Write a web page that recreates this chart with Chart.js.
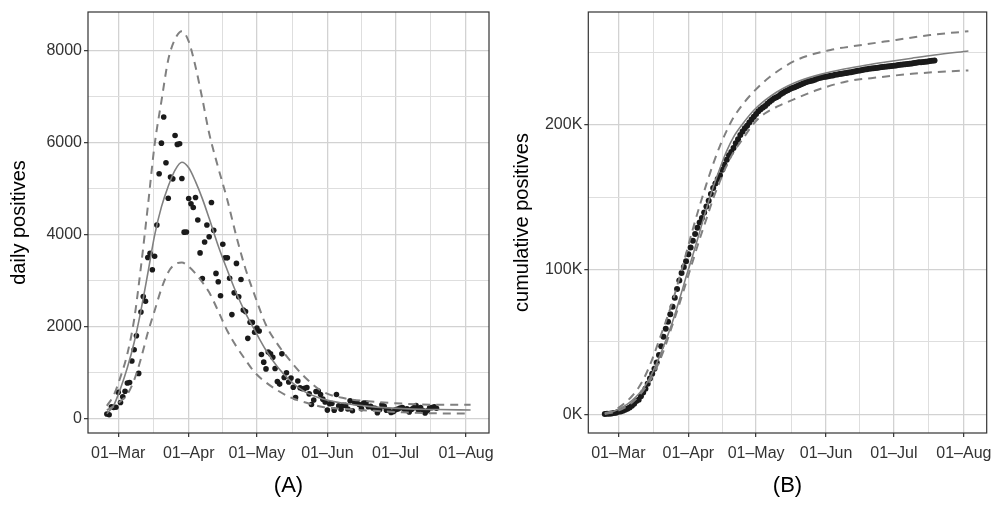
<!DOCTYPE html>
<html>
<head>
<meta charset="utf-8">
<script src="https://cdn.jsdelivr.net/npm/chart.js@4.4.0/dist/chart.umd.min.js"></script>
<style>
  html, body { margin: 0; padding: 0; background: #fff; }
  #wrap { position: relative; width: 995px; height: 506px; }
  canvas { position: absolute; top: 0; }
  #chartA { left: 0; }
  #chartB { left: 500px; }
</style>
</head>
<body>
<div id="wrap">
  <canvas id="chartA" width="497" height="506"></canvas>
  <canvas id="chartB" width="495" height="506"></canvas>
</div>
<script>
// --- x axis: days counted from 01-Mar ---
const monthDays = [0, 31, 61, 92, 122, 153];
const monthLabels = ['01–Mar', '01–Apr', '01–May', '01–Jun', '01–Jul', '01–Aug'];
const minorDays = [15.5, 46, 76.5, 107, 137.5];

// --- panel A: daily positives, first value is 25-Feb (day -5) ---
const firstDayDaily = -5;
const dailyPositives = [
  93, 78, 250, 238, 240,
  566, 342, 466, 587, 769, 778, 1247, 1492, 1797, 977, 2313, 2651, 2547, 3497, 3590, 3233,
  3526, 4207, 5322, 5986, 6557, 5560, 4789, 5249, 5210, 6153, 5959, 5974, 5217, 4050, 4053,
  4782, 4668, 4585, 4805, 4316, 3599, 3039, 3836, 4204, 3951, 4694, 4092, 3153, 2972, 2667,
  3786, 3493, 3491, 3047, 2256, 2729, 3370, 2646, 3021, 2357, 2324, 1739, 2091, 2086, 1872,
  1965, 1900, 1389, 1221, 1075, 1444, 1401, 1327, 1083, 802, 744, 1402, 888, 992, 789, 875,
  675, 451, 813, 665, 642, 652, 669, 531, 300, 397, 584, 593, 516, 416, 355,
  178, 318, 321, 177, 518, 270, 197, 280, 283, 202, 379, 163, 346, 338, 301, 210, 329, 333,
  251, 262, 224, 218, 122, 190, 296, 259, 175, 174, 126, 142,
  187, 201, 223, 235, 192, 208, 138, 193, 229, 276, 188, 234, 169, 114, 163, 230, 233, 249, 219
];

const fitDaysA = [-5, -2, 1, 4, 7, 10, 13, 16, 19, 22, 25, 28, 31, 34, 37, 40, 44, 48, 52, 56, 60, 65, 70, 76, 82, 90, 100, 110, 125, 140, 155];
const fitDaily = [100, 280, 650, 1100, 1650, 2350, 3150, 3980, 4600, 5050, 5400, 5570, 5450, 5150, 4780, 4350, 3750, 3220, 2720, 2290, 1920, 1480, 1120, 800, 580, 420, 320, 260, 210, 190, 180];
const fitDailyUpper = [270, 500, 900, 1400, 2150, 3300, 4600, 5950, 6900, 7800, 8250, 8420, 8200, 7650, 6950, 6200, 5450, 4750, 3950, 3250, 2680, 2030, 1620, 1230, 900, 580, 430, 370, 320, 295, 295];
const fitDailyLower = [180, 260, 370, 520, 830, 1300, 1860, 2340, 2820, 3180, 3350, 3390, 3300, 3150, 2960, 2740, 2330, 1900, 1560, 1270, 1000, 780, 610, 450, 350, 245, 200, 170, 130, 108, 105];

// --- panel B: cumulative positives, first value is 24-Feb (day -6) ---
const firstDayCum = -6;
const cumulativePositives = [
  229, 322, 400, 650, 888, 1128,
  1694, 2036, 2502, 3089, 3858, 4636, 5883, 7375, 9172, 10149, 12462, 15113, 17660, 21157, 24747,
  27980, 31506, 35713, 41035, 47021, 53578, 59138, 63927, 69176, 74386, 80539, 86498, 92472,
  97689, 101739, 105792,
  110574, 115242, 119827, 124632, 128948, 132547, 135586, 139422, 143626, 147577, 152271, 156363,
  159516, 162488, 165155, 168941, 172434, 175925, 178972, 181228, 183957, 187327, 189973, 192994,
  195351, 197675, 199414, 201505, 203591, 205463,
  207428, 209328, 210717, 211938, 213013, 214457, 215858, 217185, 218268, 219070, 219814, 221216,
  222104, 223096, 223885, 224760, 225435, 225886, 226699, 227364, 228006, 228658, 229327, 229858,
  230158, 230555, 231139, 231732, 232248, 232664, 233019,
  233197, 233515, 233836, 234013, 234531, 234801, 234998, 235278, 235561, 235763, 236142, 236305,
  236651, 236989, 237290, 237500, 237829, 238162, 238413, 238675, 238899, 239117, 239239, 239429,
  239725, 239984, 240159, 240333, 240459, 240601,
  240788, 240989, 241212, 241447, 241639, 241847, 241985, 242178, 242407, 242683, 242871, 243105,
  243274, 243388, 243551, 243781, 244014, 244263, 244482
];

const fitDaysB = [-6, -3, 0, 3, 6, 9, 12, 15, 18, 21, 24, 27, 30, 33, 36, 39, 42, 45, 48, 51, 55, 60, 65, 70, 75, 80, 90, 100, 110, 120, 130, 140, 155];
const fitCum = [500, 1500, 3500, 6000, 9500, 14000, 20000, 28500, 39000, 51000, 64000, 79000, 95000, 110000, 126000, 142000, 157000, 170000, 182000, 191500, 200500, 210000, 217000, 222500, 226800, 230200, 235000, 238500, 241300, 243700, 246000, 248200, 251000];
const fitCumUpperDays = [-6, -3, 0, 3, 6, 9, 12, 15, 18, 21, 24, 27, 30, 33, 36, 39, 42, 45, 48, 51, 55, 60, 67, 79, 94, 108, 123, 138, 155];
const fitCumUpper = [800, 2000, 4500, 8000, 12500, 18500, 27000, 38000, 51000, 64000, 78000, 94000, 111000, 128000, 144000, 159000, 173000, 185500, 196000, 205000, 214000, 223000, 233000, 244800, 251700, 255200, 258600, 262000, 264600];
const fitCumLowerDays = [-6, -3, 0, 3, 6, 9, 12, 15, 18, 21, 24, 27, 30, 33, 36, 39, 42, 45, 48, 51, 55, 60, 65, 71, 79, 88, 101, 116, 130, 145, 155];
const fitCumLower = [300, 1000, 2500, 4800, 8000, 12500, 18500, 26000, 36000, 48000, 62000, 76000, 91000, 106000, 121000, 135000, 149000, 161000, 172000, 181000, 190000, 201000, 208000, 213000, 218400, 224000, 229900, 232900, 235200, 236800, 237500];

const FONT = 'Liberation Sans, Arial, Helvetica, sans-serif';
const LINE_GREY = '#808080';
const X_MIN = -13.3, X_MAX = 163.1;

function xy(days, values) {
  return values.map((v, i) => ({ x: days[i], y: v }));
}
function series(firstDay, values) {
  return values.map((v, i) => ({ x: firstDay + i, y: v }));
}

function gridStyle(majors) {
  const isMajor = ctx => ctx.tick && majors.includes(ctx.tick.value);
  return {
    color: ctx => isMajor(ctx) ? '#d2d2d2' : '#dedede',
    lineWidth: ctx => isMajor(ctx) ? 1.3 : 1,
    tickColor: ctx => isMajor(ctx) ? '#333' : 'rgba(0,0,0,0)',
    tickWidth: 1.2,
    tickLength: 4,
    drawTicks: true
  };
}

const panelBorder = {
  id: 'panelBorder',
  afterDraw(chart) {
    const { ctx, chartArea: a } = chart;
    ctx.save();
    ctx.strokeStyle = '#333';
    ctx.lineWidth = 1.2;
    ctx.strokeRect(a.left, a.top, a.right - a.left, a.bottom - a.top);
    ctx.restore();
  }
};

function buildOptions(cfg) {
  return {
    responsive: false,
    animation: false,
    layout: { padding: { top: 12, right: cfg.padRight, left: 0, bottom: 0 } },
    plugins: { legend: { display: false }, tooltip: { enabled: false } },
    scales: {
      x: {
        type: 'linear',
        min: X_MIN,
        max: X_MAX,
        afterFit: s => { s.height = 73; },
        afterBuildTicks: s => { s.ticks = monthDays.concat(minorDays).map(v => ({ value: v })); },
        ticks: {
          autoSkip: false, maxRotation: 0, padding: 7, color: '#333',
          font: { family: FONT, size: 16 },
          callback: v => { const i = monthDays.indexOf(v); return i >= 0 ? monthLabels[i] : ''; }
        },
        grid: gridStyle(monthDays),
        border: { display: false },
        title: { display: true, text: cfg.panel, color: '#000', font: { family: FONT, size: 22 }, padding: { top: 0, bottom: 7 } }
      },
      y: {
        type: 'linear',
        min: cfg.yMin,
        max: cfg.yMax,
        afterFit: s => { s.width = cfg.yWidth; },
        afterBuildTicks: s => { s.ticks = cfg.yMajor.concat(cfg.yMinor).map(v => ({ value: v })); },
        ticks: {
          autoSkip: false, padding: 2, color: '#333',
          font: { family: FONT, size: 16 },
          callback: v => { const i = cfg.yMajor.indexOf(v); return i >= 0 ? cfg.yLabels[i] : ''; }
        },
        grid: gridStyle(cfg.yMajor),
        border: { display: false },
        title: { display: true, text: cfg.yTitle, color: '#000', font: { family: FONT, size: 20 }, padding: { top: cfg.titlePad, bottom: 0 } }
      }
    }
  };
}

function lineSet(data, dashed, width) {
  return {
    data: data,
    borderColor: LINE_GREY,
    borderWidth: width,
    borderDash: dashed ? [8, 6] : [],
    pointRadius: 0,
    cubicInterpolationMode: 'monotone',
    fill: false
  };
}
function pointSet(data, radius) {
  return {
    data: data,
    showLine: false,
    pointRadius: radius,
    pointBorderWidth: 0,
    pointBackgroundColor: '#1a1a1a',
    borderColor: '#1a1a1a'
  };
}

new Chart(document.getElementById('chartA'), {
  type: 'line',
  data: {
    datasets: [
      lineSet(xy(fitDaysA, fitDailyUpper), true, 2),
      lineSet(xy(fitDaysA, fitDailyLower), true, 2),
      lineSet(xy(fitDaysA, fitDaily), false, 1.6),
      pointSet(series(firstDayDaily, dailyPositives), 2.8)
    ]
  },
  options: buildOptions({
    panel: '(A)', padRight: 8, yWidth: 88, titlePad: 7,
    yMin: -320, yMax: 8840,
    yMajor: [0, 2000, 4000, 6000, 8000],
    yMinor: [1000, 3000, 5000, 7000],
    yLabels: ['0', '2000', '4000', '6000', '8000'],
    yTitle: 'daily positives'
  }),
  plugins: [panelBorder]
});

new Chart(document.getElementById('chartB'), {
  type: 'line',
  data: {
    datasets: [
      lineSet(xy(fitCumUpperDays, fitCumUpper), true, 2),
      lineSet(xy(fitCumLowerDays, fitCumLower), true, 2),
      lineSet(xy(fitDaysB, fitCum), false, 1.6),
      pointSet(series(firstDayCum, cumulativePositives), 3)
    ]
  },
  options: buildOptions({
    panel: '(B)', padRight: 8.3, yWidth: 88.3, titlePad: 10,
    yMin: -12900, yMax: 277900,
    yMajor: [0, 100000, 200000],
    yMinor: [50000, 150000, 250000],
    yLabels: ['0K', '100K', '200K'],
    yTitle: 'cumulative positives'
  }),
  plugins: [panelBorder]
});
</script>
</body>
</html>
